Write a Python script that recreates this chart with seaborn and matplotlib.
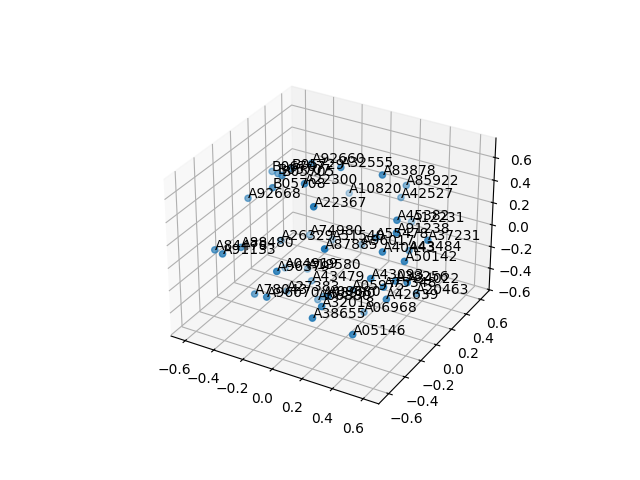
import matplotlib
matplotlib.use('Agg')
import matplotlib.pyplot as plt
import seaborn as sns

names = ["A92668","B05708","B06707","B05707","B05705","A22300","A92660","B05729","A32555","A83878","A85922","A10820","A42527","A22367","A45382","A12231","A91238","A55478","A37231","A74980","A26329","A51540","A96017","A87885","A40443","A43484","A50142","A84478","A88480","A91133","A04919","A96379","A19580","A43479","A43093","A38256","A34022","A75348","A05975","A42639","A20463","A06968","A38655","A05146","A32018","A78043","A96070","A27383","A06880","A08980","A09680"]
xs = [-0.5,-0.28,-0.53,-0.38,-0.25,0,-0.12,-0.32,0.08,0.33,0.24,-0.26,0.18,0.18,0.48,0.17,0.54,0.31,0.66,-0.35,-0.38,-0.28,-0.06,0.34,0.5,0.4,0.62,-0.48,-0.35,-0.33,-0.43,0.03,-0.31,-0.16,0.48,0.56,0.62,0.51,0.01,0.54,0.5,0.17,0.26,0.47,0.28,-0.27,-0.04,-0.33,-0.1,0.03,0.25]
ys = [-0.14,-0.22,0.19,0.01,-0.16,-0.33,-0.04,0.07,-0.05,-0.01,0.47,0.67,0.52,-0.54,-0.11,0.69,-0.23,-0.04,-0.07,0.33,0.03,0.49,0.47,-0.7,-0.32,0.21,-0.28,-0.55,-0.47,-0.7,0.16,-0.7,0.23,0.02,-0.42,-0.27,-0.24,-0.32,0.22,-0.34,0.12,0.08,-0.7,-0.61,-0.63,-0.46,-0.7,0.01,-0.01,-0.17,-0.5]
zs = [0.33,0.55,0.36,0.5,0.63,0.75,0.71,0.53,0.75,0.75,0.34,-0.03,0.18,0.75,0.48,-0.15,0.47,0.22,0.35,-0.24,-0.11,-0.36,-0.31,0.56,0.35,-0.02,0.29,0.14,0.16,0.26,-0.47,0.25,-0.48,-0.39,0.18,0.09,0.08,0.05,-0.54,-0.03,-0.31,-0.59,-0.06,-0.18,0,-0.23,0,-0.55,-0.52,-0.33,-0.01]

sns.reset_orig()
color = sns.color_palette("tab10")[0]
fig = plt.figure(figsize=(6.4, 4.8), dpi=100)
ax = fig.add_subplot(projection='3d')
ax.scatter(xs, ys, zs, color=color)
for n, x, y, z in zip(names, xs, ys, zs):
    ax.text(x, y, z, n)
ax.set_xlim(-0.70, 0.70)
ax.set_ylim(-0.72, 0.72)
ax.set_zlim(-0.61, 0.77)
ax.set_xticks([-0.6, -0.4, -0.2, 0.0, 0.2, 0.4, 0.6])
ax.set_yticks([-0.6, -0.4, -0.2, 0.0, 0.2, 0.4, 0.6])
ax.set_zticks([-0.6, -0.4, -0.2, 0.0, 0.2, 0.4, 0.6])
fig.savefig('out.png', dpi=100)
